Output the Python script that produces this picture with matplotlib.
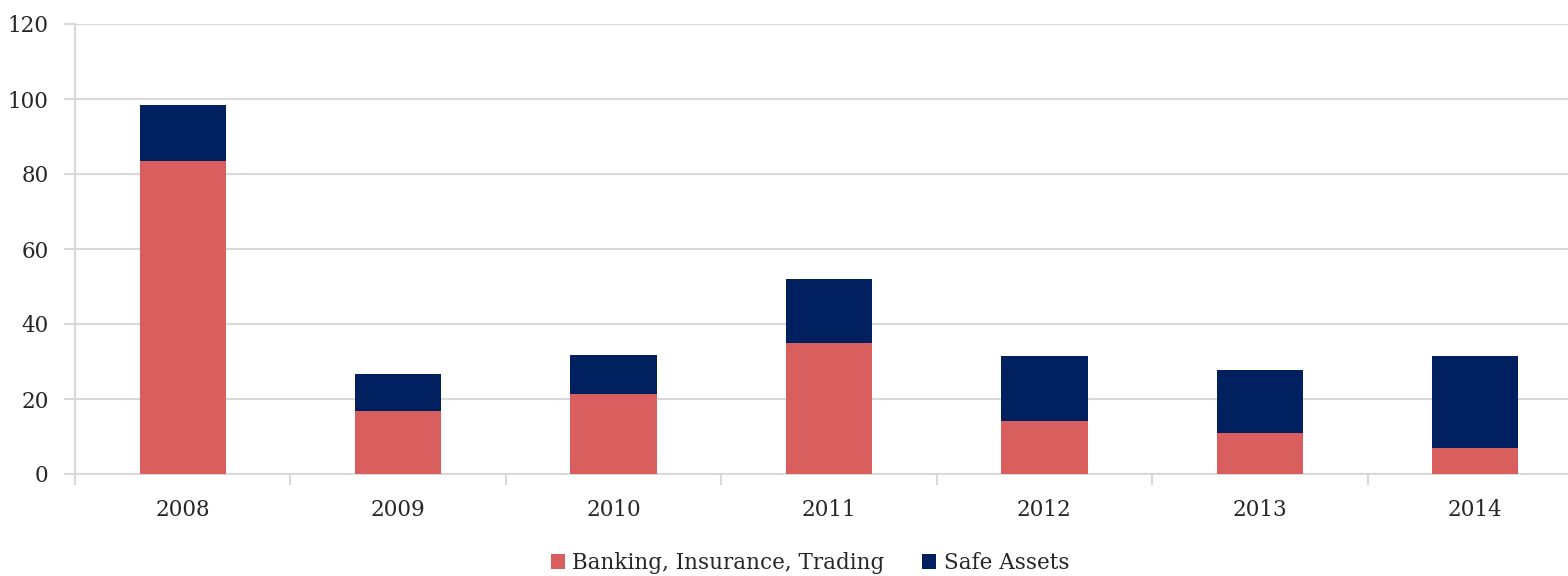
import matplotlib
matplotlib.use("Agg")
import matplotlib.pyplot as plt
import numpy as np

years = ["2008", "2009", "2010", "2011", "2012", "2013", "2014"]
banking = [83.5, 16.8, 21.3, 34.9, 14.1, 10.9, 6.9]
safe_assets = [14.9, 9.9, 10.4, 17.1, 17.4, 16.8, 24.7]
y_ticks = [0, 20, 40, 60, 80, 100, 120]

RED = "#D95F5F"
NAVY = "#002060"
GRID = "#D9D9D9"
TXT = "#262626"

plt.rcParams['font.family'] = ['DejaVu Serif']
FS = 15.5

fig = plt.figure(figsize=(15.68, 5.76), dpi=100)
ax = fig.add_axes([75/1568, (576-474)/576, (1583-75)/1568, (474-24)/576])

x = np.arange(len(years))
w = 0.40
ax.bar(x, banking, width=w, color=RED, label="Banking, Insurance, Trading", zorder=3)
ax.bar(x, safe_assets, width=w, bottom=banking, color=NAVY, label="Safe Assets", zorder=3)

ax.set_xlim(-0.5, len(years) - 0.5)
ax.set_ylim(0, 120)
ax.set_yticks(y_ticks)
ax.set_yticklabels([str(v) for v in y_ticks], fontsize=FS, color=TXT)
ax.yaxis.grid(True, color=GRID, linewidth=1.5, zorder=0)
ax.tick_params(axis='y', length=8, color=GRID, width=1.5, pad=11)

ax.set_xticks(x)
ax.set_xticklabels(years, fontsize=FS, color=TXT)
ax.tick_params(axis='x', which='major', length=0, pad=18)
ax.set_xticks(np.arange(len(years) + 1) - 0.5, minor=True)
ax.tick_params(axis='x', which='minor', length=8, color=GRID, width=1.5)

for s in ['top', 'right']:
    ax.spines[s].set_visible(False)
for s in ['left', 'bottom']:
    ax.spines[s].set_color(GRID)
    ax.spines[s].set_linewidth(1.5)
ax.spines['left'].set_bounds(0, 120)

leg = fig.legend(loc='center', bbox_to_anchor=(810/1568, (576-563)/576), ncol=2,
                 frameon=False, fontsize=FS, handlelength=0.65, handleheight=0.65,
                 handletextpad=0.35, columnspacing=1.75)
for t in leg.get_texts():
    t.set_color(TXT)

fig.savefig("out.png", dpi=100)
